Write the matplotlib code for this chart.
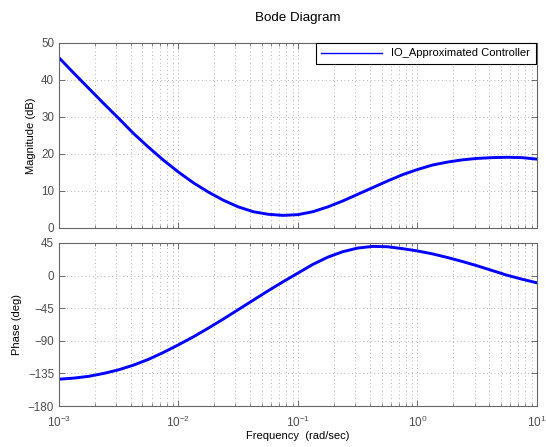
import matplotlib
matplotlib.use("Agg")
import matplotlib.pyplot as plt
from matplotlib.lines import Line2D
from matplotlib.ticker import LogLocator, NullFormatter
import numpy as np

plt.rcParams['font.family'] = ['Liberation Sans', 'DejaVu Sans']
plt.rcParams['font.size'] = 8
plt.rcParams['mathtext.fontset'] = 'custom'
plt.rcParams['mathtext.rm'] = 'Liberation Sans'
plt.rcParams['mathtext.it'] = 'Liberation Sans'
plt.rcParams['mathtext.default'] = 'regular'

# values (log10 of frequency, rad/sec)
log_w = [-3.0, -2.875, -2.75, -2.625, -2.5, -2.375, -2.25, -2.125, -2.0,
         -1.875, -1.75, -1.625, -1.5, -1.375, -1.25, -1.125, -1.0, -0.875,
         -0.75, -0.625, -0.5, -0.375, -0.25, -0.125, 0.0, 0.125, 0.25,
         0.375, 0.5, 0.625, 0.75, 0.875, 1.0]
mag_db = [46.0, 41.8, 37.7, 33.6, 29.6, 25.5, 21.8, 18.3, 15.1,
          12.2, 9.7, 7.5, 5.7, 4.4, 3.7, 3.4, 3.6, 4.4,
          5.7, 7.3, 9.1, 10.9, 12.7, 14.4, 15.8, 17.0, 17.8,
          18.4, 18.8, 19.0, 19.1, 19.0, 18.6]
phase_deg = [-143, -141.5, -139, -135, -130, -123.5, -115.5, -106, -95.5,
             -84.5, -72.5, -60, -47, -34, -21, -8.5, 3.5, 15.5,
             25.5, 33, 38, 40.3, 39.8, 37.2, 34, 30, 25,
             19.5, 13.5, 7, 0.5, -5, -10]
mag_ticks = [0, 10, 20, 30, 40, 50]
phase_ticks = [-180, -135, -90, -45, 0, 45]
legend_label = 'IO_Approximated Controller'

w = 10.0 ** np.array(log_w)

fig = plt.figure(figsize=(5.46, 4.47), dpi=100)
ax1 = fig.add_axes([0.108, 0.490, 0.8755, 0.414])
ax2 = fig.add_axes([0.108, 0.0917, 0.8755, 0.3647])

blue = '#0000ff'
ax1.semilogx(w, mag_db, color=blue, lw=2.1)
ax2.semilogx(w, phase_deg, color=blue, lw=2.1)

for ax, ticks in ((ax1, mag_ticks), (ax2, phase_ticks)):
    ax.set_xlim(1e-3, 10)
    ax.set_ylim(ticks[0], ticks[-1])
    ax.set_yticks(ticks)
    ax.xaxis.set_major_locator(LogLocator(base=10, numticks=10))
    ax.xaxis.set_minor_locator(LogLocator(base=10, subs=np.arange(2, 10), numticks=20))
    ax.xaxis.set_minor_formatter(NullFormatter())
    ax.tick_params(which='both', direction='in', top=True, right=True,
                   colors='0.35', labelcolor='0.3', labelsize=8.4)
    ax.tick_params(which='major', length=4, width=0.6)
    ax.tick_params(which='minor', length=2, width=0.5)
    ax.grid(True, which='major', axis='both', color='0.6', ls=(0, (1, 3.5)), lw=0.6)
    ax.grid(True, which='minor', axis='x', color='0.6', ls=(0, (1, 3.5)), lw=0.6)
    for s in ax.spines.values():
        s.set_color('0.4')
        s.set_linewidth(0.8)

ax1.tick_params(labelbottom=False)
ax2.tick_params(axis='x', which='major', pad=6, labelsize=8.5)
ax1.set_ylabel('Magnitude (dB)', color='black')
ax2.set_ylabel('Phase (deg)', color='black')
ax2.set_xlabel('Frequency  (rad/sec)', color='black', labelpad=1)
ax1.set_title('Bode Diagram', pad=16)

proxy = Line2D([], [], color=blue, lw=1)
leg = ax1.legend([proxy], [legend_label], loc='upper right', fancybox=False,
                 edgecolor='black', framealpha=1, handlelength=5.5,
                 borderaxespad=0, borderpad=0.5, bbox_to_anchor=(0.997, 1.0))
leg.get_frame().set_linewidth(0.8)

fig.savefig('out.png', dpi=100)
